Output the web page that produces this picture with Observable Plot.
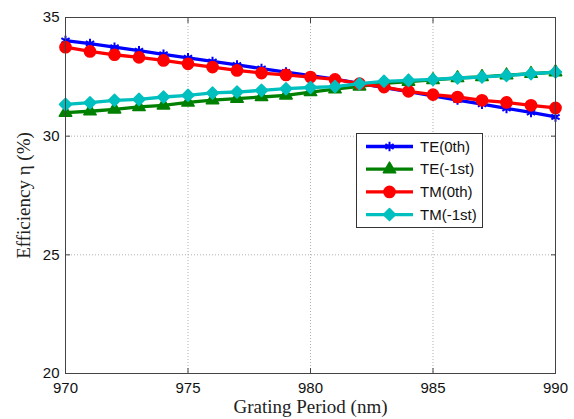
<!DOCTYPE html>
<html>
<head>
<meta charset="utf-8">
<script src="https://cdn.jsdelivr.net/npm/d3@7"></script>
<script src="https://cdn.jsdelivr.net/npm/@observablehq/plot@0.6"></script>
<style>
  body { margin: 0; background: #fff; }
  #wrap { position: relative; width: 574px; height: 419px; }
  #legend { position: absolute; }
</style>
</head>
<body>
<div id="wrap"></div>
<script>
const period = d3.range(970, 991);
const te0  = [34.03, 33.9, 33.75, 33.6, 33.45, 33.3, 33.15, 33.0, 32.85, 32.7, 32.55, 32.4, 32.22, 32.05, 31.88, 31.7, 31.52, 31.35, 31.17, 31.0, 30.81];
const teM1 = [30.99, 31.05, 31.13, 31.23, 31.3, 31.42, 31.52, 31.58, 31.65, 31.72, 31.86, 31.98, 32.1, 32.22, 32.3, 32.37, 32.45, 32.5, 32.57, 32.63, 32.7];
const tm0  = [33.75, 33.57, 33.43, 33.32, 33.19, 33.05, 32.91, 32.77, 32.66, 32.58, 32.49, 32.39, 32.21, 32.07, 31.89, 31.75, 31.65, 31.51, 31.42, 31.3, 31.19];
const tmM1 = [31.34, 31.41, 31.51, 31.55, 31.65, 31.72, 31.82, 31.86, 31.93, 32.0, 32.05, 32.09, 32.21, 32.31, 32.35, 32.39, 32.45, 32.49, 32.56, 32.63, 32.7];

const seriesNames = ["TE(0th)", "TE(-1st)", "TM(0th)", "TM(-1st)"];
const seriesValues = [te0, teM1, tm0, tmM1];
const colors = ["#0000ff", "#008000", "#ff0000", "#00bfbf"];
const symbols = ["asterisk", "triangle", "circle", "diamond2"];
const xTicks = [970, 975, 980, 985, 990];
const yTicks = [20, 25, 30, 35];

const rows = [];
seriesNames.forEach((s, i) => period.forEach((p, j) => rows.push({series: s, x: p, y: seriesValues[i][j]})));

const tickFont = "Liberation Sans, Arial, sans-serif";
const labelFont = "Liberation Serif, Times New Roman, serif";
const radius = {asterisk: 4.5, triangle: 4.6, circle: 5.6, diamond2: 5.4};

const seriesMarks = seriesNames.flatMap((s, i) => {
  const d = rows.filter(r => r.series === s);
  const sym = symbols[i];
  const dotOpts = sym === "asterisk"
    ? {x: "x", y: "y", symbol: sym, r: radius[sym], stroke: colors[i], strokeWidth: 2}
    : {x: "x", y: "y", symbol: sym, r: radius[sym], fill: colors[i], stroke: colors[i], strokeWidth: 1.5, strokeLinejoin: "round"};
  return [
    Plot.line(d, {x: "x", y: "y", stroke: colors[i], strokeWidth: 3.3}),
    Plot.dot(d, dotOpts)
  ];
});

const chart = Plot.plot({
  width: 574,
  height: 419,
  marginLeft: 65,
  marginRight: 19,
  marginTop: 17,
  marginBottom: 46,
  style: {background: "#fff", overflow: "visible"},
  x: {domain: [970, 990]},
  y: {domain: [20, 35]},
  marks: [
    Plot.gridX(xTicks, {stroke: "#b0b0b0", strokeOpacity: 1, strokeDasharray: "1,2"}),
    Plot.gridY(yTicks, {stroke: "#b0b0b0", strokeOpacity: 1, strokeDasharray: "1,2"}),
    ...seriesMarks,
    Plot.frame({stroke: "#444", strokeWidth: 1}),
    Plot.axisX(xTicks, {anchor: "bottom", tickSize: -5, stroke: "#444", tickFormat: () => "", label: null}),
    Plot.axisX(xTicks, {anchor: "top", tickSize: -5, stroke: "#444", tickFormat: () => "", label: null}),
    Plot.axisY(yTicks, {anchor: "left", tickSize: -5, stroke: "#444", tickFormat: () => "", label: null}),
    Plot.axisY(yTicks, {anchor: "right", tickSize: -5, stroke: "#444", tickFormat: () => "", label: null}),
    Plot.axisX(xTicks, {anchor: "bottom", tickSize: 0, tickPadding: 9, fontSize: 15, fontFamily: tickFont, fill: "#111", label: null}),
    Plot.axisY(yTicks, {anchor: "left", tickSize: 0, tickPadding: 6, fontSize: 15, fontFamily: tickFont, fill: "#111", label: null}),
    Plot.axisX(xTicks, {anchor: "bottom", tickSize: 0, tickFormat: () => "", label: "Grating Period (nm)", labelAnchor: "center", labelArrow: "none", labelOffset: 39, fontSize: 19, fontFamily: labelFont, fill: "#222"}),
    Plot.axisY(yTicks, {anchor: "left", tickSize: 0, tickFormat: () => "", label: "Efficiency η (%)", labelAnchor: "center", labelArrow: "none", labelOffset: 49, fontSize: 19, fontFamily: labelFont, fill: "#222"})
  ]
});

const wrap = document.getElementById("wrap");
wrap.appendChild(chart);

// Legend (HTML/SVG overlay)
const lw = 127, lh = 95;
const legend = d3.create("svg")
  .attr("id", "legend")
  .attr("width", lw).attr("height", lh)
  .style("left", "356px").style("top", "133px");
legend.append("rect").attr("x", 0.5).attr("y", 0.5).attr("width", lw - 1).attr("height", lh - 1)
  .attr("fill", "#fff").attr("stroke", "#333");
const symMap = {asterisk: d3.symbolAsterisk, triangle: d3.symbolTriangle, circle: d3.symbolCircle, diamond2: d3.symbolDiamond2};
seriesNames.forEach((s, i) => {
  const g = legend.append("g").attr("transform", `translate(0, ${13.5 + i * 22.7})`);
  g.append("line").attr("x1", 10).attr("x2", 57).attr("y1", 0).attr("y2", 0)
    .attr("stroke", colors[i]).attr("stroke-width", 3.3);
  const sym = symbols[i];
  const r = radius[sym];
  const p = g.append("path").attr("transform", "translate(33.5,0)")
    .attr("d", d3.symbol(symMap[sym], Math.PI * r * r)());
  if (sym === "asterisk") p.attr("fill", "none").attr("stroke", colors[i]).attr("stroke-width", 2);
  else p.attr("fill", colors[i]).attr("stroke", colors[i]).attr("stroke-width", 1.5).attr("stroke-linejoin", "round");
  g.append("text").attr("x", 64).attr("y", 0).attr("dy", "0.35em")
    .attr("font-family", tickFont).attr("font-size", 15).attr("fill", "#111").text(s);
});
wrap.appendChild(legend.node());
</script>
</body>
</html>
